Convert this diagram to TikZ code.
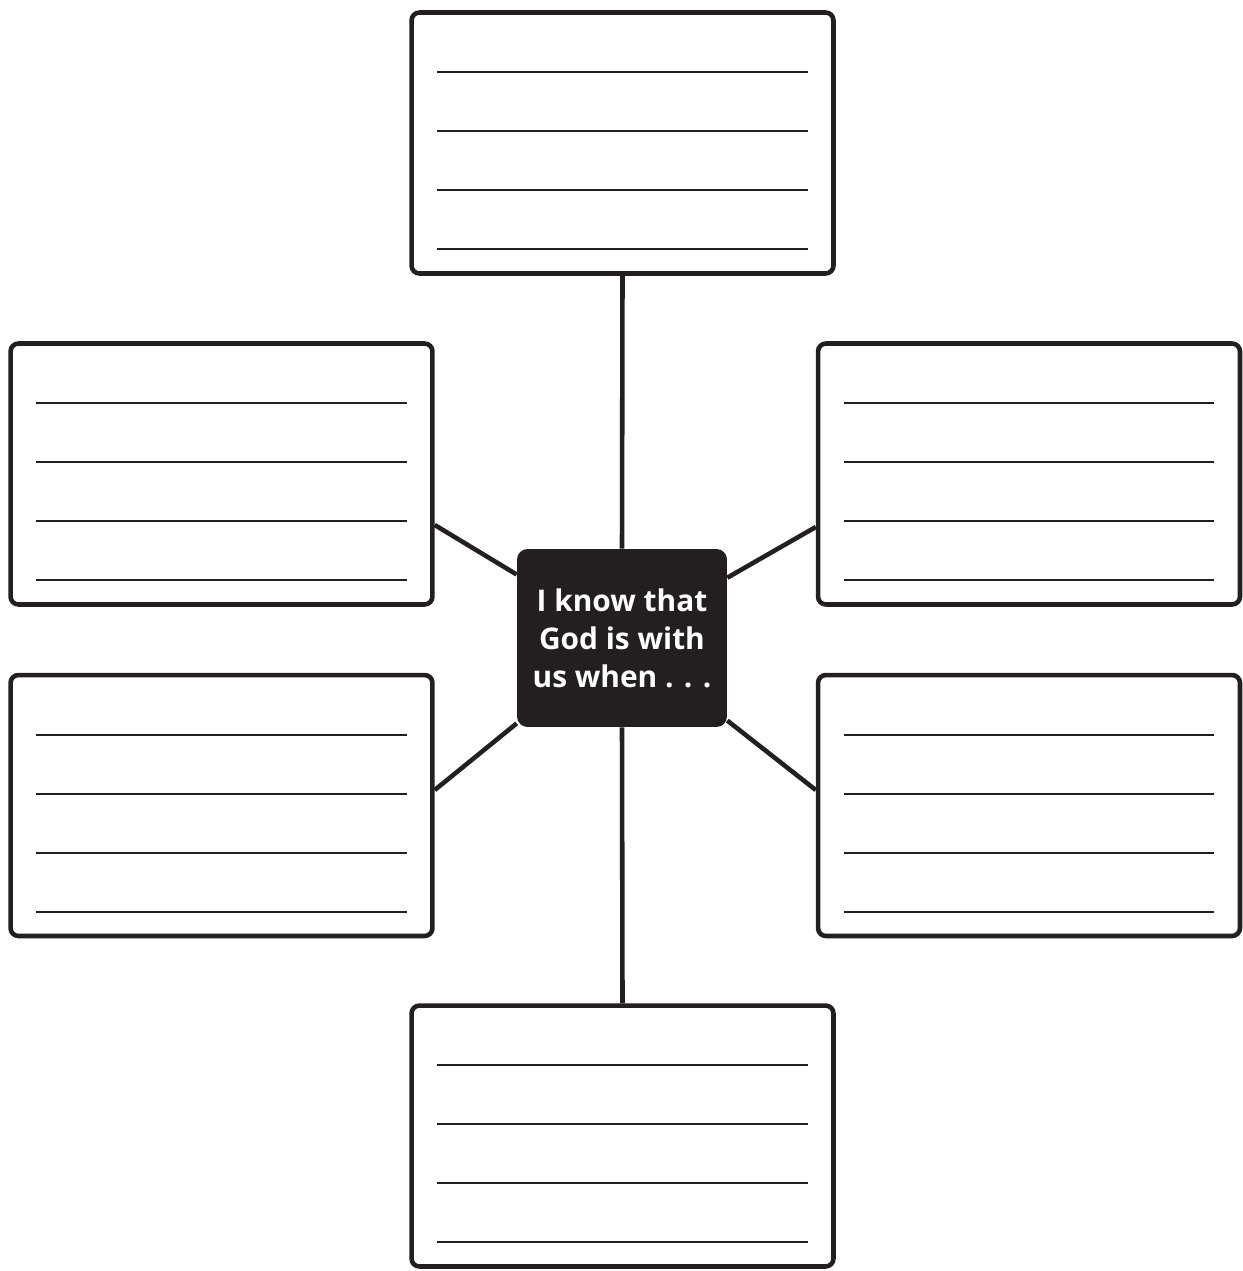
\documentclass[tikz,border=0pt]{standalone}
\usepackage{fontspec}
\setmainfont{Open Sans}
\definecolor{ink}{HTML}{231F20}

\begin{document}
\begin{tikzpicture}[x=0.02cm,y=-0.02cm]
			\tikzset{card/.style={draw=ink,line width=2.6pt,rounded corners=4.5pt,minimum width=8.44cm,minimum height=5.22cm,inner sep=0pt},
				slot/.style={ink,line width=1.1pt},
				spoke/.style={ink,line width=2.6pt},
				hub/.style={fill=ink,rounded corners=6pt,minimum width=4.2cm,minimum height=3.56cm,inner sep=0pt,text=white,align=center,font=\bfseries\fontsize{17}{21.6}\selectfont}}
			\useasboundingbox (0,0) rectangle (1243,1271);
			% centre
			\node[hub] (hub) at (622,638) {I know that\\God is with\\us when . . .};
			% cards
			\node[card] (top) at (622.5,143) {};
			\node[card] (lu) at (221.5,474) {};
			\node[card] (ru) at (1029,474) {};
			\node[card] (ll) at (221.5,805.5) {};
			\node[card] (rl) at (1029,805.5) {};
			\node[card] (bot) at (622.5,1136) {};
			% writing lines
			\foreach \b in {top,lu,ru,ll,rl,bot}
				\foreach \y in {62,121,180,239}
					\draw[slot] ([shift={(28,\y)}]\b.north west) -- ([shift={(-28,\y)}]\b.north east);
			% spokes
			\draw[spoke] (top.south) -- (hub.north);
			\draw[spoke] (hub.south) -- (bot.north);
			\draw[spoke] ([shift={(0,51)}]lu.east) -- (hub);
			\draw[spoke] ([shift={(0,-15.5)}]ll.east) -- (hub);
			\draw[spoke] ([shift={(0,53)}]ru.west) -- (hub);
			\draw[spoke] ([shift={(0,-15.5)}]rl.west) -- (hub);
		\end{tikzpicture}
\end{document}
